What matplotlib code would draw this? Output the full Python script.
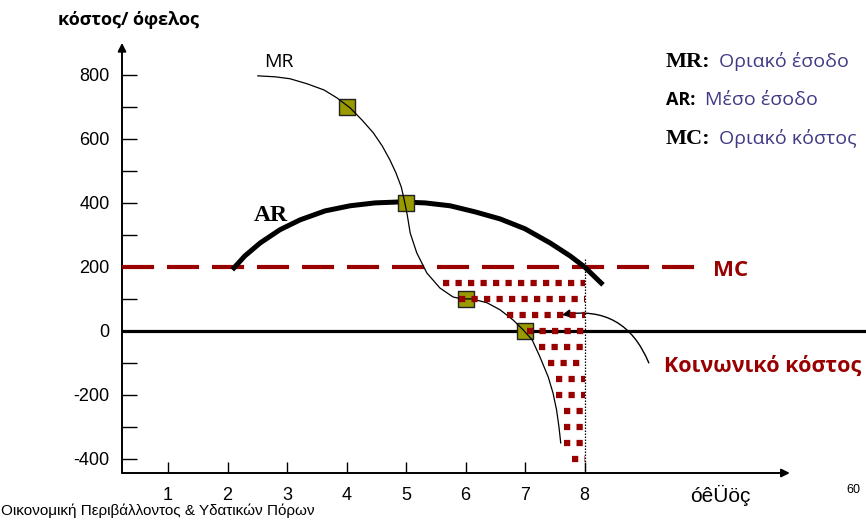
import matplotlib.pyplot as plt
import numpy as np

plt.rcParams['axes.unicode_minus'] = False

# curves
mr_x = [2.51, 2.80, 3.05, 3.34, 3.62, 3.84, 4.06, 4.26, 4.45, 4.60, 4.73, 4.83, 4.92, 4.97,
        5.02, 5.07, 5.18, 5.35, 5.57, 5.79, 5.94,
        6.11, 6.36, 6.58, 6.80, 6.97, 7.12, 7.25, 7.39, 7.47, 7.53, 7.57, 7.60]
mr_y = [797, 794, 788, 772, 753, 728, 697, 659, 619, 578, 534, 494, 450, 409,
        363, 306, 244, 181, 134, 106, 100,
        100, 88, 66, 34, 3, -28, -81, -144, -194, -247, -300, -350]

ar_x = [2.08, 2.29, 2.55, 2.88, 3.22, 3.64, 4.06, 4.48, 4.90, 5.32, 5.74, 6.16, 6.58,
        7.00, 7.42, 7.76, 8.00, 8.31]
ar_y = [191, 234, 275, 316, 347, 375, 391, 400, 403, 400, 391, 372, 350,
        319, 275, 234, 200, 144]

mc_level = 200
square_x = [4, 5, 6, 7]
square_y = [700, 400, 100, 0]

# social cost area (rows of dots between MR and q=8)
row_y = [150, 100, 50, 0, -50, -100, -150, -200, -250, -300, -350, -400]
row_x0 = [5.62, 5.89, 6.70, 7.03, 7.23, 7.39, 7.52, 7.52, 7.66, 7.66, 7.66, 7.79]
q_end = 8

x_ticks = [1, 2, 3, 4, 5, 6, 7, 8]
y_major = [-400, -200, 0, 200, 400, 600, 800]
y_minor = [-300, -100, 100, 300, 500, 700]

red = '#990000'
olive = '#999900'
purple = '#3f3a85'

W, H = 866, 520
fig = plt.figure(figsize=(W / 100, H / 100), dpi=100)
ax = fig.add_axes([122 / W, 47 / H, 744 / W, 473 / H])
x0, ybot = 0.227, -444
ax.set_xlim(x0, 12.73)
ax.set_ylim(ybot, 1034)
for s in ax.spines.values():
    s.set_visible(False)

# axes with arrows
ax.annotate('', xy=(x0, 900), xytext=(x0, ybot),
            arrowprops=dict(arrowstyle='-|>', lw=1.4, color='black', mutation_scale=12,
                            shrinkA=0, shrinkB=0), annotation_clip=False)
ax.annotate('', xy=(11.45, ybot), xytext=(x0, ybot),
            arrowprops=dict(arrowstyle='-|>', lw=1.4, color='black', mutation_scale=12,
                            shrinkA=0, shrinkB=0), annotation_clip=False)

ax.set_yticks(y_major)
ax.set_yticks(y_minor, minor=True)
ax.set_xticks(x_ticks)
ax.tick_params(axis='y', which='both', direction='in', length=11, width=1.0, pad=9,
               labelsize=13)
ax.tick_params(axis='y', which='minor', labelleft=False)
ax.tick_params(axis='x', direction='in', length=8, width=1.0, pad=10, labelsize=13)
for lab in ax.get_xticklabels() + ax.get_yticklabels():
    lab.set_fontfamily('Liberation Sans')

# zero line
ax.axhline(0, xmin=0, xmax=1, color='black', lw=2.3, zorder=2)

# MC dashed line
mc_line, = ax.plot([x0, 9.86], [mc_level, mc_level], color=red, lw=3, zorder=3)
mc_line.set_dashes([7.7, 3.1])
mc_line.set_dash_capstyle('butt')

# vertical dotted line at q=8
ax.plot([q_end, q_end], [225, ybot], color='black', lw=0.9, ls=(0, (1.2, 1.2)), zorder=2)

# curves and points
ax.plot(ar_x, ar_y, color='black', lw=3.6, solid_capstyle='butt', zorder=5)
ax.scatter(square_x, square_y, marker='s', s=120, color=olive, edgecolor='#222222',
           linewidth=1.0, zorder=6)
ax.plot(mr_x, mr_y, color='black', lw=0.9, zorder=7)

# social cost dots
for y, xs in zip(row_y, row_x0):
    ax.plot([xs, q_end], [y, y], color=red, lw=4.5, ls=(0, (1, 1)),
            dash_capstyle='butt', zorder=8)

# arrow to the social cost area
ax.annotate('', xy=(7.62, 50), xytext=(9.08, -100),
            arrowprops=dict(arrowstyle='-|>', lw=1.0, color='black', mutation_scale=12,
                            connectionstyle='arc3,rad=0.4', shrinkA=0, shrinkB=0))

# labels on the chart
ax.text(2.87, 840, 'MR', fontsize=14, fontfamily='Open Sans', ha='center', va='center')
ax.text(2.72, 362, 'AR', fontsize=17, fontfamily='Liberation Serif', fontweight='bold',
        ha='center', va='center')
ax.text(10.45, 190, 'MC', fontsize=16, fontfamily='Open Sans', fontweight='bold',
        color=red, ha='center', va='center')
ax.text(11.0, -112, 'Κοινωνικό κόστος', fontsize=15.5, fontfamily='Open Sans',
        fontweight='bold', color=red, ha='center', va='center')

# text around the figure
fig.text(129 / W, 1 - 20 / H, 'κόστος/ όφελος', fontsize=13, fontfamily='Open Sans',
         fontweight='bold', ha='center', va='center')
fig.text(720 / W, 1 - 495 / H, 'óêÜöç', fontsize=15, fontfamily='Liberation Sans',
         ha='center', va='center')
fig.text(853 / W, 1 - 490 / H, '60', fontsize=9, fontfamily='Liberation Sans',
         ha='center', va='center')
fig.text(1 / W, 1 - 511 / H, 'Οικονομική Περιβάλλοντος & Υδατικών Πόρων', fontsize=11,
         fontfamily='Liberation Sans', ha='left', va='center')

# legend block
legend = [('MR:', 'Liberation Serif', 16, 719, 'Οριακό έσοδο', 67),
          ('AR:', 'Open Sans', 13, 705, 'Μέσο έσοδο', 105),
          ('MC:', 'Liberation Serif', 16, 719, 'Οριακό κόστος', 144)]
for key, fam, size, xt, desc, base in legend:
    fig.text(666 / W, 1 - base / H, key, fontsize=size, fontfamily=fam,
             fontweight='bold', ha='left', va='baseline')
    fig.text(xt / W, 1 - base / H, desc, fontsize=14, fontfamily='Open Sans',
             color=purple, ha='left', va='baseline')

fig.savefig('out.png', dpi=100)
